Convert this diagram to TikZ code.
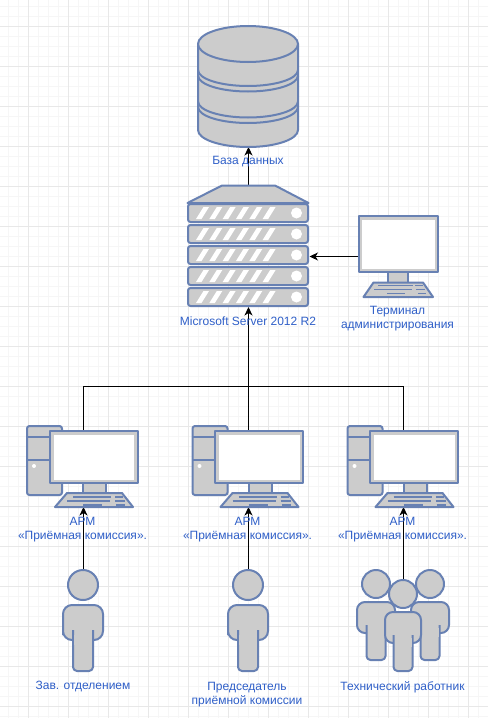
\documentclass[tikz,border=0pt]{standalone}
\usepackage{fontspec}
\setmainfont{Liberation Sans}
\usetikzlibrary{arrows.meta}
\definecolor{sk}{HTML}{6881B3}
\definecolor{fl}{HTML}{CCCCCC}
\definecolor{lb}{HTML}{2F5FC8}
\definecolor{gmaj}{HTML}{E8E8E8}
\definecolor{gmin}{HTML}{F6F6F6}
\tikzset{
  shp/.style={draw=sk,fill=fl,line width=2pt,line join=round},
  hole/.style={fill=white,draw=none},
  keyrow/.style={draw=sk,line width=1.6pt},
  lab/.style={text=lb,font=\fontsize{12}{14}\selectfont,align=center,inner sep=0pt},
  anch/.style={inner sep=0pt,outer sep=0pt,draw=none},
  conn/.style={draw=black,line width=1pt},
  arr/.style={conn,-{Stealth[length=8.5pt,width=8pt,inset=2.5pt]}},
  armpc/.pic={
    \draw[shp,rounded corners=2.5pt] (0,0) rectangle (35,69);
    \draw[sk,line width=2pt] (0,11) -- (35,11) (0,34) -- (35,34);
    \fill[white] (7,40) circle (2);
    \draw[shp] (56,57) rectangle (79,68);
    \draw[shp] (40,81) -- (28,81) -- (40,67) -- (95,67) -- (106,81) -- cycle;
    \draw[keyrow] (46,71) -- (84,71) (88,71) -- (96,71)
                  (40,75) -- (83,75) (88,75) -- (98,75)
                  (56,79) -- (75,79) (89,79) -- (98,79);
    \draw[shp] (22.5,5) rectangle (110.5,57);
    \fill[hole] (26.5,8.5) rectangle (107,54);
  }
}
\newcommand{\serverslab}[1]{%
  \draw[shp,rounded corners=2.5pt] (188,#1) rectangle (308,#1+18);
  \foreach \k in {0,...,5}
    \fill[white] (196+13.33*\k,#1+15) -- (201.5+13.33*\k,#1+15) -- (209+13.33*\k,#1+3) -- (203.5+13.33*\k,#1+3) -- cycle;
  \fill[white] (296.5,#1+9) circle (5.5);
}
\newcommand{\personshape}[3]{%
  \draw[shp] (#1,#2) circle (15);
  \draw[shp,rounded corners=9pt] (#1-20,#3+35) -- (#1-20,#3) -- (#1+20,#3) -- (#1+20,#3+35) -- (#1-20,#3+35) -- cycle;
  \draw[shp,rounded corners=4pt] (#1-10,#3+25) -- (#1-10,#3+66) -- (#1+10,#3+66) -- (#1+10,#3+25);
  \fill[fl] (#1-9,#3+30) rectangle (#1+9,#3+40);
}
\newcommand{\smallperson}[6]{%
  \draw[shp] (#1,#2) circle (14);
  \draw[shp,rounded corners=8pt] (#1-#3,#5) -- (#1-#3,#4) -- (#1+#3,#4) -- (#1+#3,#5) -- cycle;
  \draw[shp,rounded corners=4pt] (#1-9.5,#5-8) -- (#1-9.5,#6) -- (#1+9.5,#6) -- (#1+9.5,#5-8);
  \fill[fl] (#1-8.5,#5-5) rectangle (#1+8.5,#5+4);
}
\begin{document}
\begin{tikzpicture}[x=1pt,y=-1pt]
\useasboundingbox (0,0) rectangle (488,718);
\fill[white] (0,0) rectangle (488,718);
% grid
\begin{scope}[line width=1pt]
\foreach \i in {0,...,47} \draw[gmin] (\i*10+8.5,0) -- (\i*10+8.5,718);
\foreach \i in {0,...,71} \draw[gmin] (0,\i*10+6.5) -- (488,\i*10+6.5);
\foreach \i in {0,...,11} \draw[gmaj] (\i*40+28.5,0) -- (\i*40+28.5,718);
\foreach \i in {0,...,17} \draw[gmaj] (0,\i*40+26.5) -- (488,\i*40+26.5);
\end{scope}
% anchors of the shapes
\node[anch,minimum width=101pt,minimum height=121pt] (db) at (248.5,86.5) {};
\node[anch,minimum width=122pt,minimum height=122pt] (srv) at (248.5,246) {};
\node[anch,minimum width=80pt,minimum height=81pt] (term) at (398,256.5) {};
\node[anch,minimum width=111pt,minimum height=76pt] (arm1) at (83.5,469) {};
\node[anch,minimum width=111pt,minimum height=76pt] (arm2) at (248.5,469) {};
\node[anch,minimum width=111pt,minimum height=76pt] (arm3) at (403.5,469) {};
\node[anch,minimum width=41pt,minimum height=101pt] (p1) at (83.5,620.5) {};
\node[anch,minimum width=41pt,minimum height=101pt] (p2) at (248.5,620.5) {};
\node[anch,minimum width=91pt,minimum height=91pt] (p3) at (403.5,625.5) {};
\coordinate (bus) at (248.5,386.5);
% connectors
\draw[arr] (srv.north) -- (db.south);
\draw[arr] (term.west) -- (srv.east |- term.west);
\draw[arr] (arm2.north) -- (srv.south);
\draw[conn] (arm1.north) |- (bus) -| (arm3.north);
\draw[arr] (p1.north) -- (arm1.south);
\draw[arr] (p2.north) -- (arm2.south);
\draw[arr] (p3.north) -- (arm3.south);
% database
\draw[shp] (198,43.5) -- (198,130) arc[start angle=180,end angle=0,x radius=50,y radius=17] -- (298,43.5);
\draw[shp] (248,44) ellipse (50 and 18);
\foreach \yy in {70,75.5,101.5,107}
  \draw[sk,line width=2pt] (198,\yy) arc[start angle=180,end angle=0,x radius=50,y radius=16];
% server
\draw[shp] (187.5,203) -- (222,185.5) -- (275,185.5) -- (308.5,203) -- cycle;
\serverslab{204}
\serverslab{225}
\serverslab{246}
\serverslab{267}
\serverslab{288}
% terminal
\draw[shp] (388,270) rectangle (408,284);
\draw[shp] (373,297) -- (363.5,297) -- (373.5,282.5) -- (423,282.5) -- (433,297) -- cycle;
\draw[keyrow] (378,285.5) -- (413,285.5) (415,285.5) -- (423,285.5)
              (374,289.5) -- (412,289.5) (416,289.5) -- (425,289.5)
              (387,293.5) -- (405,293.5) (418,293.5) -- (426,293.5);
\draw[shp] (358.5,216) rectangle (438,272);
\fill[hole] (361.5,219.5) rectangle (434.5,268.5);
% workstations
\pic at (27,426) {armpc};
\pic at (192.5,426) {armpc};
\pic at (347.5,426) {armpc};
% people
\personshape{83}{585}{605}
\personshape{248}{585}{605}
\smallperson{376}{584}{19}{602}{633}{660}
\smallperson{430}{584}{19}{602}{633}{660}
\smallperson{403}{594}{18}{612}{643}{671}
% labels
\node[lab] (tdb) at (248,162) {База данных};
\node[lab] (tsrv) at (248,321.5) {Microsoft Server 2012 R2};
\node[lab] (tterm) at (397.5,319) {Терминал\\администрирования};
\node[lab] (ta1) at (82.5,529.5) {АРМ\\«Приёмная комиссия».};
\node[lab] (ta2) at (247.5,529.5) {АРМ\\«Приёмная комиссия».};
\node[lab] (ta3) at (402.5,529.5) {АРМ\\«Приёмная комиссия».};
\node[lab] (tp1) at (83,687) {Зав. отделением};
\node[lab] (tp2) at (247,694.5) {Председатель\\приёмной комиссии};
\node[lab] (tp3) at (402.5,687) {Технический работник};
\end{tikzpicture}
\end{document}
